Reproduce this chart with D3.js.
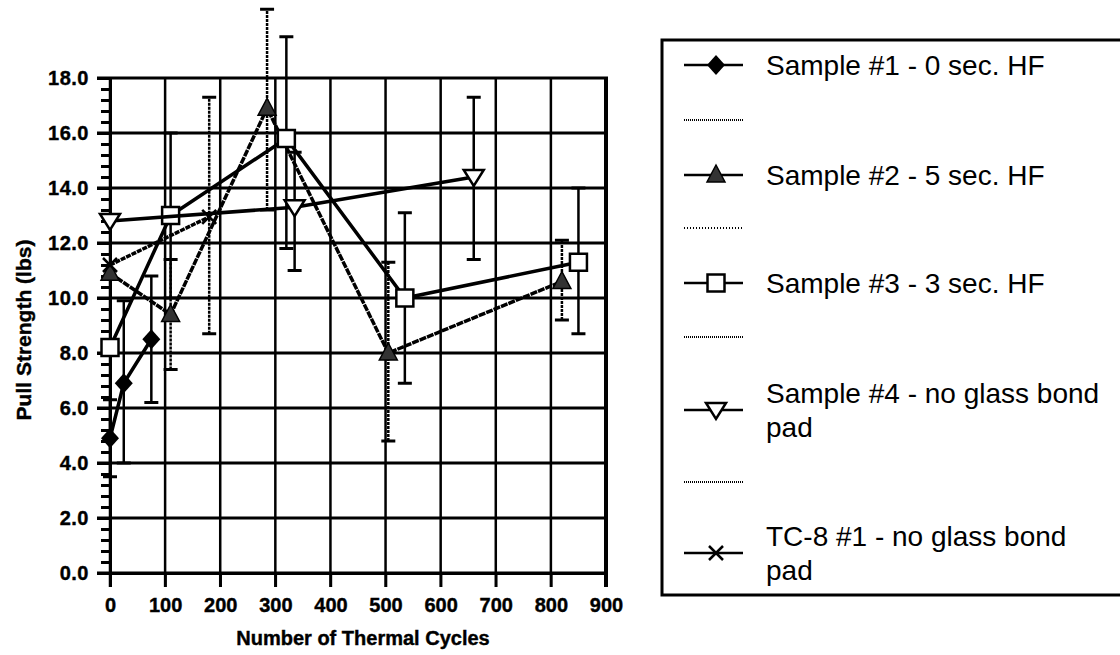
<!DOCTYPE html>
<html lang="en">
<head>
    <meta charset="UTF-8">
    <title>Pull Strength vs Thermal Cycles</title>
    <script src="https://d3js.org/d3.v7.min.js"></script>
    <style>
        body { margin: 0; background: #fff; }
        text { font-family: "Liberation Sans", Arial, sans-serif; fill: #000; }
        .bold { font-weight: bold; stroke: #000; stroke-width: 0.4px; }
    </style>
</head>
<body>
    <svg width="1120" height="655"></svg>
    <script>
        // tick values
        const xTicks = [0, 100, 200, 300, 400, 500, 600, 700, 800, 900];
        const yTicks = [0, 2, 4, 6, 8, 10, 12, 14, 16, 18];

        // Sample #1 - 0 sec. HF
        const s1Cycles = [0, 25, 75];
        const s1Strength = [4.9, 6.9, 8.5];
        const s1Low = [3.5, 4.0, 6.2];
        const s1High = [6.3, 9.9, 10.8];

        // Sample #2 - 5 sec. HF
        const s2Cycles = [0, 110, 285, 505, 820];
        const s2Strength = [10.9, 9.4, 16.9, 8.0, 10.6];
        const s2Low = [null, 7.4, 13.2, 4.8, 9.2];
        const s2High = [null, 11.4, 20.5, 11.3, 12.1];

        // Sample #3 - 3 sec. HF
        const s3Cycles = [0, 110, 320, 535, 850];
        const s3Strength = [8.2, 13.0, 15.8, 10.0, 11.3];
        const s3Low = [null, 10.0, 11.8, 6.9, 8.7];
        const s3High = [null, 16.0, 19.5, 13.1, 14.0];

        // Sample #4 - no glass bond pad
        const s4Cycles = [0, 335, 660];
        const s4Strength = [12.8, 13.3, 14.4];
        const s4Low = [null, 11.0, 11.4];
        const s4High = [null, 15.3, 17.3];

        // TC-8 #1 - no glass bond pad
        const tcCycles = [0, 180];
        const tcStrength = [11.2, 12.95];
        const tcLow = [null, 8.7];
        const tcHigh = [null, 17.3];

        const legendLabels = [
            ["Sample #1 - 0 sec. HF"],
            ["Sample #2 - 5 sec. HF"],
            ["Sample #3 - 3 sec. HF"],
            ["Sample #4 - no glass bond", "pad"],
            ["TC-8 #1 - no glass bond", "pad"]
        ];

        const series = [
            { cx: s1Cycles, v: s1Strength, lo: s1Low, hi: s1High, mark: "diamond", dash: null, err: null },
            { cx: s2Cycles, v: s2Strength, lo: s2Low, hi: s2High, mark: "triangle", dash: "7,1", err: "3,1" },
            { cx: s3Cycles, v: s3Strength, lo: s3Low, hi: s3High, mark: "square", dash: null, err: null },
            { cx: s4Cycles, v: s4Strength, lo: s4Low, hi: s4High, mark: "down", dash: null, err: null },
            { cx: tcCycles, v: tcStrength, lo: tcLow, hi: tcHigh, mark: "cross", dash: "5,1", err: "3,1" }
        ];

        const svg = d3.select("svg");
        const x = d3.scaleLinear().domain([0, 900]).range([110, 606]);
        const y = d3.scaleLinear().domain([0, 18]).range([573, 78]);

        // grid
        svg.append("g").selectAll("line").data(yTicks).join("line")
            .attr("x1", 97).attr("x2", x(900) + 2)
            .attr("y1", d => y(d)).attr("y2", d => y(d))
            .attr("stroke", "#000").attr("stroke-width", 3);
        svg.append("g").selectAll("line").data(xTicks).join("line")
            .attr("x1", d => x(d)).attr("x2", d => x(d))
            .attr("y1", y(18) - 1).attr("y2", y(0) + 14)
            .attr("stroke", "#000").attr("stroke-width", d => d === 900 ? 4 : 2.5);

        // axes
        const yAxis = svg.append("g").attr("transform", `translate(${x(0)},0)`)
            .call(d3.axisLeft(y).tickValues(yTicks).tickFormat(d3.format(".1f"))
                .tickSize(13).tickPadding(8));
        yAxis.select(".domain").attr("stroke-width", 3);
        yAxis.selectAll("line").attr("stroke-width", 3);
        yAxis.selectAll("text").attr("class", "bold").style("font-size", "20px")
            .style("letter-spacing", "0.5px");

        const minor = d3.range(0, 46).map(i => i * 0.4).filter(d => Math.abs(d / 2 - Math.round(d / 2)) > 0.01);
        svg.append("g").attr("transform", `translate(${x(0) + 2},0)`)
            .call(d3.axisLeft(y).tickValues(minor).tickFormat("").tickSize(11).tickSizeOuter(0))
            .call(g => g.select(".domain").remove())
            .selectAll("line").attr("stroke-width", 3);

        const xAxis = svg.append("g").attr("transform", `translate(0,${y(0)})`)
            .call(d3.axisBottom(x).tickValues(xTicks).tickSize(14).tickPadding(11));
        xAxis.select(".domain").attr("stroke-width", 3);
        xAxis.selectAll("line").attr("stroke-width", 2.5);
        xAxis.selectAll("text").attr("class", "bold").style("font-size", "20px");

        svg.append("text").attr("class", "bold").attr("x", 363).attr("y", 645).attr("text-anchor", "middle")
            .style("font-size", "20px").text("Number of Thermal Cycles");
        svg.append("text").attr("class", "bold").attr("transform", "translate(31,330) rotate(-90)")
            .attr("text-anchor", "middle").style("font-size", "21px").text("Pull Strength (lbs)");

        // marker shapes
        function drawMark(g, type, cx, cy) {
            if (type === "diamond") {
                g.append("path").attr("d", `M${cx},${cy - 10}L${cx + 9},${cy}L${cx},${cy + 10}L${cx - 9},${cy}Z`)
                    .attr("fill", "#000");
            } else if (type === "triangle") {
                g.append("path").attr("d", `M${cx},${cy - 10}L${cx + 9},${cy + 7}L${cx - 9},${cy + 7}Z`)
                    .attr("fill", "#333").attr("stroke", "#000").attr("stroke-width", 1.5);
            } else if (type === "square") {
                g.append("rect").attr("x", cx - 8.5).attr("y", cy - 8.5).attr("width", 17).attr("height", 17)
                    .attr("fill", "#fff").attr("stroke", "#000").attr("stroke-width", 2.5);
            } else if (type === "down") {
                g.append("path").attr("d", `M${cx - 10},${cy - 7}L${cx + 10},${cy - 7}L${cx},${cy + 9}Z`)
                    .attr("fill", "#fff").attr("stroke", "#000").attr("stroke-width", 2.5);
            } else if (type === "cross") {
                g.append("path").attr("d", `M${cx - 7},${cy - 7}L${cx + 7},${cy + 7}M${cx + 7},${cy - 7}L${cx - 7},${cy + 7}`)
                    .attr("stroke", "#000").attr("stroke-width", 2.5);
            }
        }

        const plot = svg.append("g");
        const line = d3.line().x(d => x(d[0])).y(d => y(d[1]));

        // error bars
        series.forEach(s => {
            s.cx.forEach((c, i) => {
                if (s.lo[i] == null) return;
                const eg = plot.append("g").attr("stroke", "#000").attr("stroke-width", 2.5);
                eg.append("line").attr("x1", x(c)).attr("x2", x(c)).attr("y1", y(s.lo[i])).attr("y2", y(s.hi[i]))
                    .attr("stroke-dasharray", s.err);
                [s.lo[i], s.hi[i]].forEach(v => eg.append("line").attr("stroke-width", 3)
                    .attr("x1", x(c) - 7).attr("x2", x(c) + 7).attr("y1", y(v)).attr("y2", y(v)));
            });
        });

        // lines and markers
        series.forEach(s => {
            const pts = s.cx.map((c, i) => [c, s.v[i]]);
            plot.append("path").datum(pts).attr("d", line)
                .attr("fill", "none").attr("stroke", "#000").attr("stroke-width", 3.5)
                .attr("stroke-dasharray", s.dash);
            const mg = plot.append("g");
            pts.forEach(p => drawMark(mg, s.mark, x(p[0]), y(p[1])));
        });

        // legend
        const lg = svg.append("g");
        lg.append("rect").attr("x", 662).attr("y", 40).attr("width", 470).attr("height", 555)
            .attr("fill", "none").attr("stroke", "#000").attr("stroke-width", 3);

        const rowY = [65, 175, 283, 410, 553];
        const sepY = [120, 228, 337, 482];
        const sepDash = ["1,1", "1,2", "1,1", "1,1"];
        series.forEach((s, i) => {
            lg.append("line").attr("x1", 684).attr("x2", 743).attr("y1", rowY[i]).attr("y2", rowY[i])
                .attr("stroke", "#000").attr("stroke-width", 2.5);
            drawMark(lg, s.mark, 716, rowY[i]);
            const lines = legendLabels[i];
            const t = lg.append("text").attr("x", 766).style("font-size", "28px");
            lines.forEach((l, j) => {
                t.append("tspan").attr("x", 766)
                    .attr("y", rowY[i] + 10 + (lines.length === 1 ? 0 : (j === 0 ? -17 : 17)))
                    .text(l);
            });
        });
        sepY.forEach((sy, i) => {
            lg.append("line").attr("x1", 684).attr("x2", 743).attr("y1", sy).attr("y2", sy)
                .attr("stroke", "#000").attr("stroke-width", 2).attr("stroke-dasharray", sepDash[i]);
        });
    </script>
</body>
</html>
